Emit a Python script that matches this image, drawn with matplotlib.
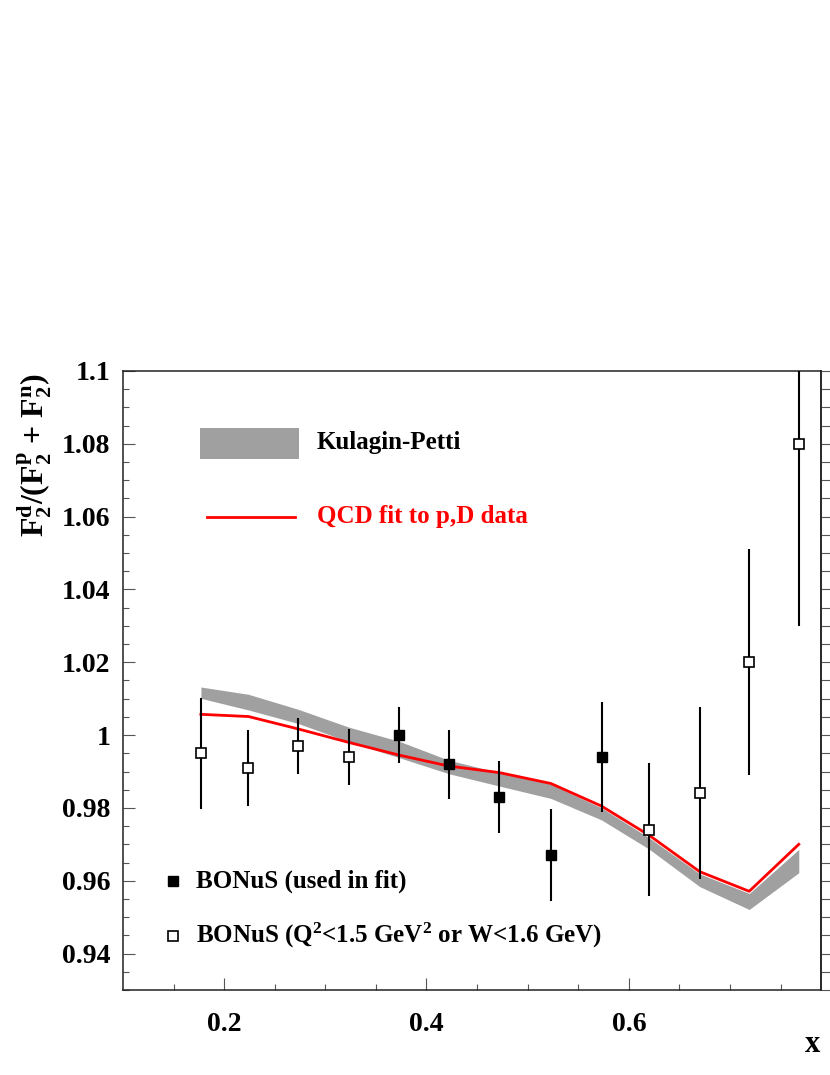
import matplotlib
matplotlib.use("Agg")
import matplotlib.pyplot as plt
from matplotlib.patches import Rectangle
from matplotlib.lines import Line2D

plt.rcParams['font.family'] = 'Liberation Serif'
plt.rcParams['font.weight'] = 'bold'
plt.rcParams['mathtext.fontset'] = 'custom'
plt.rcParams['mathtext.rm'] = 'Liberation Serif:bold'
plt.rcParams['mathtext.it'] = 'Liberation Serif:bold'
plt.rcParams['mathtext.bf'] = 'Liberation Serif:bold'

# model curves (Kulagin-Petti band and QCD fit)
x_model = [0.177, 0.224, 0.273, 0.323, 0.373, 0.422, 0.472, 0.523, 0.573, 0.620, 0.670, 0.719, 0.768]
kp_hi = [1.0132, 1.0112, 1.0071, 1.0022, 0.9983, 0.9931, 0.9897, 0.9865, 0.9800, 0.9718, 0.9619, 0.9565, 0.9686]
kp_lo = [1.0101, 1.0069, 1.0032, 0.9982, 0.9938, 0.9894, 0.9860, 0.9826, 0.9767, 0.9687, 0.9584, 0.9521, 0.9622]
qcd_fit = [1.0057, 1.0051, 1.0017, 0.9980, 0.9945, 0.9915, 0.9897, 0.9867, 0.9805, 0.9725, 0.9625, 0.9571, 0.9700]

# BONuS points used in fit
x_used = [0.373, 0.422, 0.472, 0.523, 0.573]
y_used = [1.000, 0.992, 0.983, 0.967, 0.994]
e_used = [0.0077, 0.0095, 0.0099, 0.0126, 0.0152]

# BONuS points with Q2<1.5 or W<1.6
x_cut = [0.177, 0.224, 0.273, 0.323, 0.620, 0.670, 0.719, 0.768]
y_cut = [0.995, 0.991, 0.997, 0.994, 0.974, 0.984, 1.020, 1.080]
e_cut = [0.0153, 0.0105, 0.0077, 0.0077, 0.0183, 0.0236, 0.031, 0.050]

yticks = [0.94, 0.96, 0.98, 1.0, 1.02, 1.04, 1.06, 1.08, 1.1]
ytick_labels = ['0.94', '0.96', '0.98', '1', '1.02', '1.04', '1.06', '1.08', '1.1']
xticks = [0.2, 0.4, 0.6]
xtick_labels = ['0.2', '0.4', '0.6']

fig = plt.figure(figsize=(8.3, 10.75), dpi=100)
ax = fig.add_axes([0.1482, 0.0791, 0.8410, 0.5758])

ax.fill_between(x_model, kp_lo, kp_hi, color='#a0a0a0', lw=0, zorder=1)
ax.plot(x_model, qcd_fit, color='red', lw=2.0, zorder=2)

ax.errorbar(x_used, y_used, yerr=e_used, fmt='none', ecolor='black', elinewidth=1.5, zorder=3)
ax.errorbar(x_cut, y_cut, yerr=e_cut, fmt='none', ecolor='black', elinewidth=1.5, zorder=3)
ax.plot(x_used, y_used, 's', color='black', ms=7.2, zorder=5)
ax.plot(x_cut, y_cut, 's', mfc='white', mec='black', mew=1.2, ms=7.2, zorder=5)

ax.set_xlim(0.1, 0.79)
ax.set_ylim(0.93, 1.1)

ax.set_xticks(xticks)
ax.set_xticklabels(xtick_labels)
ax.set_xticks([0.15, 0.25, 0.3, 0.35, 0.45, 0.5, 0.55, 0.65, 0.7, 0.75], minor=True)
ax.set_yticks(yticks)
ax.set_yticklabels(ytick_labels)
ax.set_yticks([0.93 + 0.005 * i for i in range(35)], minor=True)

ax.tick_params(axis='both', which='both', direction='in', color='#555555', width=0.8,
               top=False, right=False, labelsize=20)
ax.tick_params(axis='both', which='major', length=8.6)
ax.tick_params(axis='both', which='minor', length=4.3)
ax.tick_params(axis='x', which='major', pad=16)
ax.tick_params(axis='y', which='major', pad=9)

for s in ax.spines.values():
    s.set_linewidth(1.1)
    s.set_color('#222222')

sec = ax.secondary_yaxis('right')
sec.set_yticks(yticks)
sec.set_yticks([0.93 + 0.005 * i for i in range(35)], minor=True)
sec.tick_params(axis='y', which='both', direction='out', length=8, color='#555555',
                width=0.8, labelright=False)
sec.spines['right'].set_linewidth(1.1)
sec.spines['right'].set_color('#222222')

# legend drawn by hand
ax.add_patch(Rectangle((0.1103, 0.8578), 0.1418, 0.0496, transform=ax.transAxes,
                       color='#a0a0a0', lw=0))
ax.text(0.2779, 0.8837, 'Kulagin-Petti', transform=ax.transAxes, fontsize=18,
        va='center', ha='left')
ax.add_line(Line2D([0.1199, 0.2464], [0.7646, 0.7646], transform=ax.transAxes,
                   color='red', lw=2.0))
ax.text(0.2779, 0.7646, 'QCD fit to p,D data', transform=ax.transAxes, fontsize=18,
        va='center', ha='left', color='red')
ax.plot([0.0721], [0.1761], 's', color='black', ms=7.2, transform=ax.transAxes)
ax.text(0.1046, 0.1761, 'BONuS (used in fit)', transform=ax.transAxes, fontsize=18,
        va='center', ha='left')
ax.plot([0.0721], [0.0877], 's', mfc='white', mec='black', mew=1.2, ms=7.2,
        transform=ax.transAxes)
ax.text(0.1046, 0.0877, r'BONuS (Q$^2$<1.5 GeV$^2$ or W<1.6 GeV)', transform=ax.transAxes,
        fontsize=18, va='center', ha='left')

fig.text(0.0422, 0.653, r'F$_2^d$/(F$_2^p$ + F$_2^n$)', rotation=90,
         ha='center', va='top', fontsize=23)
fig.text(0.988, 0.0214, 'x', ha='right', va='baseline', fontsize=22)

fig.savefig('out.png', dpi=100)
